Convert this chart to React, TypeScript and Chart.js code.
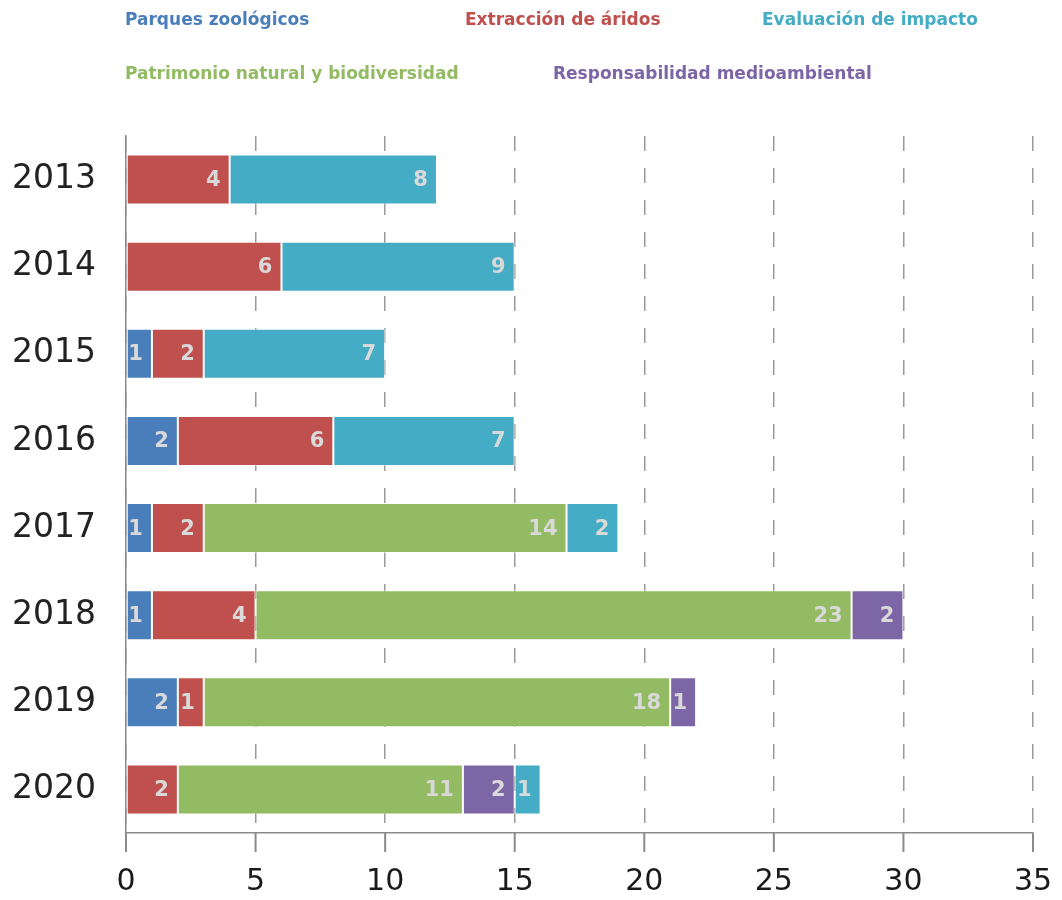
import React, { useEffect, useRef } from "react";
import { Chart, registerables } from "chart.js";

Chart.register(...registerables);

const years = ["2013", "2014", "2015", "2016", "2017", "2018", "2019", "2020"];
const parques = [0, 0, 1, 2, 1, 1, 2, 0];
const aridos = [4, 6, 2, 6, 2, 4, 1, 2];
const patrimonio = [0, 0, 0, 0, 14, 23, 18, 11];
const responsabilidad = [0, 0, 0, 0, 0, 2, 1, 2];
const evaluacion = [8, 9, 7, 7, 2, 0, 0, 1];
const xTicks = [0, 5, 10, 15, 20, 25, 30, 35];

const C_BLUE = "#4a7ebb";
const C_RED = "#c0504d";
const C_GREEN = "#93bb63";
const C_PURPLE = "#7d66a6";
const C_TEAL = "#44acc4";

const FONT = "'DejaVu Sans', sans-serif";

const legendItems = [
  { text: "Parques zoológicos", color: C_BLUE, left: 125, top: 8 },
  { text: "Extracción de áridos", color: C_RED, left: 465, top: 8 },
  { text: "Evaluación de impacto", color: C_TEAL, left: 762, top: 8 },
  { text: "Patrimonio natural y biodiversidad", color: C_GREEN, left: 125, top: 62 },
  { text: "Responsabilidad medioambiental", color: C_PURPLE, left: 553, top: 62 },
];

const labelPlugin = {
  id: "segLabels",
  afterDatasetsDraw(chart: any) {
    const ctx = chart.ctx;
    ctx.save();
    ctx.font = `bold 21px ${FONT}`;
    ctx.fillStyle = "#d9d9d9";
    ctx.textAlign = "right";
    ctx.textBaseline = "middle";
    chart.data.datasets.forEach((ds: any, di: number) => {
      const meta = chart.getDatasetMeta(di);
      meta.data.forEach((el: any, i: number) => {
        const v = ds.data[i];
        if (!v) return;
        ctx.fillText(String(v), el.x - 9, el.y + 1);
      });
    });
    ctx.restore();
  },
};

const tickMarkPlugin = {
  id: "tickMarks",
  afterDraw(chart: any) {
    const ctx = chart.ctx;
    const xs = chart.scales.x;
    const bottom = chart.chartArea.bottom;
    ctx.save();
    ctx.strokeStyle = "#8a8a8a";
    ctx.lineWidth = 2;
    ctx.setLineDash([]);
    xTicks.forEach((v) => {
      const px = xs.getPixelForValue(v);
      ctx.beginPath();
      ctx.moveTo(px, bottom);
      ctx.lineTo(px, bottom + 19);
      ctx.stroke();
    });
    ctx.restore();
  },
};

export default function App() {
  const ref = useRef<HTMLCanvasElement | null>(null);
  useEffect(() => {
    if (!ref.current) return;
    const mk = (label: string, data: number[], color: string) => ({
      label,
      data,
      backgroundColor: color,
      borderColor: "rgba(255,255,255,0.55)",
      borderWidth: 1,
      borderSkipped: false,
      categoryPercentage: 1,
      barPercentage: 0.575,
    });
    const chart = new Chart(ref.current, {
      type: "bar",
      data: {
        labels: years,
        datasets: [
          mk("Parques zoológicos", parques, C_BLUE),
          mk("Extracción de áridos", aridos, C_RED),
          mk("Patrimonio natural y biodiversidad", patrimonio, C_GREEN),
          mk("Responsabilidad medioambiental", responsabilidad, C_PURPLE),
          mk("Evaluación de impacto", evaluacion, C_TEAL),
        ],
      },
      options: {
        indexAxis: "y",
        animation: false,
        responsive: false,
        maintainAspectRatio: false,
        layout: { padding: { top: 136, right: 29, left: 0, bottom: 0 } },
        plugins: { legend: { display: false }, tooltip: { enabled: false } },
        scales: {
          x: {
            stacked: true,
            min: 0,
            max: 35,
            afterBuildTicks: (s: any) => {
              s.ticks = xTicks.map((v) => ({ value: v }));
            },
            afterFit: (s: any) => {
              s.height = 67;
              s.paddingLeft = 0;
              s.paddingRight = 0;
            },
            grid: {
              color: "#9a9a9a",
              lineWidth: 1.5,
              drawTicks: false,
            },
            border: { display: true, color: "#8a8a8a", width: 1.5, dash: [15, 17] },
            ticks: {
              color: "#1a1a1a",
              font: { family: FONT, size: 30 },
              padding: 31,
            },
          },
          y: {
            stacked: true,
            afterFit: (s: any) => {
              s.width = 126;
            },
            grid: { display: false, drawTicks: false },
            border: { display: true, color: "#8a8a8a", width: 1.5 },
            ticks: {
              color: "#222",
              font: { family: FONT, size: 33 },
              padding: 30,
            },
          },
        },
      },
      plugins: [labelPlugin, tickMarkPlugin],
    } as any);
    return () => chart.destroy();
  }, []);
  return (
    <div style={{ position: "absolute", left: 0, top: 0, width: 1062, height: 900, background: "#fff" }}>
      <canvas ref={ref} width={1062} height={900} style={{ position: "absolute", left: 0, top: 0 }} />
      {legendItems.map((it) => (
        <span
          key={it.text}
          style={{
            position: "absolute",
            left: it.left,
            top: it.top,
            color: it.color,
            fontFamily: FONT,
            fontWeight: "bold",
            fontSize: 17,
            lineHeight: "22px",
            whiteSpace: "nowrap",
          }}
        >
          {it.text}
        </span>
      ))}
    </div>
  );
}
